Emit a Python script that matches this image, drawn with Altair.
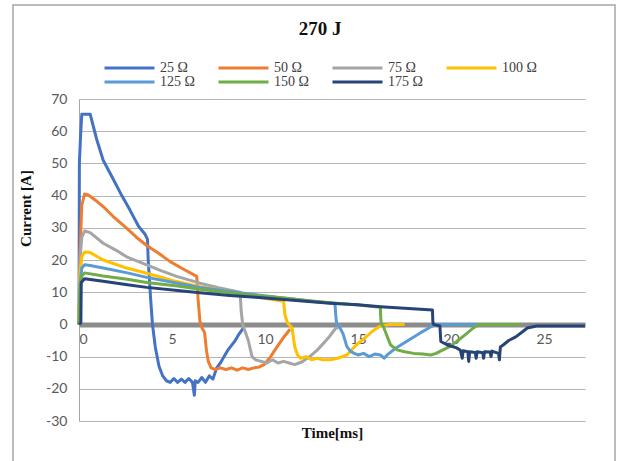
import altair as alt
import pandas as pd

# ---------------- data ----------------
series_names = ["25 Ω", "50 Ω", "75 Ω", "100 Ω", "125 Ω", "150 Ω", "175 Ω"]
series_colors = ["#4472C4", "#ED7D31", "#A5A5A5", "#FFC000", "#5B9BD5", "#70AD47", "#264478"]

t_25 = [0, 0.02, 0.08, 0.15, 0.6, 0.95, 1.3, 1.85, 2.3, 2.74, 3.2, 3.55, 3.68, 3.72, 3.85, 3.95, 4.1, 4.3,
        4.5, 4.7, 4.9, 5.1, 5.3, 5.5, 5.7, 5.9, 6.1, 6.2, 6.25, 6.4, 6.6, 6.8, 7.0, 7.2, 7.4, 7.6, 7.8,
        8.0, 8.2, 8.4, 8.6, 8.85]
i_25 = [0, 50, 58, 65.3, 65.3, 57.5, 51, 45, 40, 35.5, 30.5, 28, 26.5, 20, 8, 0, -7, -13,
        -16, -17.5, -18, -16.8, -18, -17, -18, -16.8, -18, -22, -17.5, -18, -16.5, -18, -16, -17, -13.5, -12, -10,
        -8, -6.5, -5, -3, -1]

t_50 = [0, 0.05, 0.15, 0.3, 0.5, 0.9, 1.3, 1.84, 2.56, 3.1, 3.64, 4.3, 4.9, 5.6, 6.33, 6.4, 6.5, 6.6,
        6.75, 6.85, 6.95, 7.1, 7.3, 7.6, 7.9, 8.2, 8.5, 8.8, 9.1, 9.4, 9.7, 9.95, 10.3, 10.7, 11.0, 11.35]
i_50 = [0, 22, 37, 40.5, 40.2, 38.5, 36.6, 33.5, 29.9, 27, 24.5, 22, 19.5, 17.2, 14.9, 8, 1, -1,
        -2.5, -8, -11.5, -13.5, -14, -13.5, -14, -13.5, -14.2, -13.5, -14, -13.5, -13.2, -12.5, -10, -6.5, -4, -1.5]

t_75 = [0, 0.05, 0.15, 0.3, 0.6, 1.3, 2.0, 2.56, 3.64, 4.4, 5.25, 6.5, 7.5, 8.66, 8.72, 8.8, 8.95, 9.1,
        9.3, 9.5, 9.8, 10.1, 10.4, 10.7, 11.0, 11.3, 11.6, 12.0, 12.4, 12.8, 13.2, 13.5, 13.8, 14.1]
i_75 = [0, 20, 27, 29, 28.5, 25.2, 23, 21, 18.5, 16.7, 14.9, 12.8, 11.4, 10, 4, 0, -2.5, -5,
        -10, -11, -11.5, -12, -11, -12, -11.5, -12, -12.5, -11.6, -10, -8, -5.5, -3.5, -1.2, -0.5]

t_100 = [0, 0.05, 0.15, 0.3, 0.6, 1.3, 2.56, 3.64, 5.25, 6.5, 8.0, 9.5, 11.0, 11.07, 11.2, 11.45, 11.6,
         11.75, 11.9, 12.2, 12.5, 12.8, 13.1, 13.5, 13.9, 14.4, 14.9, 15.4, 15.8, 16.2, 16.7, 17.2, 17.5]
i_100 = [0, 15, 21, 22.5, 22.3, 20, 17.5, 15.9, 13.3, 11.7, 10.2, 8.6, 7.2, 3, 0.5, -1, -7,
         -9.5, -10.5, -10, -11, -10.5, -11, -11, -10.5, -9.5, -6.4, -4, -2, -0.5, 0, 0, 0]

t_125 = [0, 0.05, 0.15, 0.3, 0.6, 1.3, 2.6, 3.64, 5.3, 6.5, 8.1, 9.5, 11.0, 12.5, 13.76, 13.8, 13.85,
         14.0, 14.2, 14.4, 14.6, 14.8, 15.0, 15.3, 15.6, 15.9, 16.2, 16.4, 16.6, 17.0, 17.6, 18.3, 18.9,
         19.2, 21.5]
i_125 = [0, 12, 17.5, 18.5, 18.3, 17.5, 16, 14.6, 12.8, 11.5, 10.2, 9.2, 8.2, 7.2, 6.5, 3, 0,
         -0.7, -3, -6.9, -8.4, -9, -9.5, -9, -10, -9.2, -9.5, -10.5, -9.3, -7.5, -5.3, -2.8, -0.8,
         0, 0]

t_150 = [0, 0.05, 0.15, 0.3, 1.3, 2.6, 3.64, 5.3, 6.5, 8.1, 9.5, 11.0, 12.5, 14.0, 15.0, 16.2, 16.22,
         16.25, 16.35, 16.6, 16.75, 17.1, 17.5, 18.0, 18.5, 18.9, 19.2, 19.4, 19.9, 20.3, 20.8, 21.2,
         21.5, 23.7]
i_150 = [0, 10, 15, 16, 15, 14, 13, 11.9, 10.9, 9.8, 9.0, 8.2, 7.3, 6.5, 6.0, 5.3, 2,
         0, -0.5, -4.2, -6.4, -7.9, -8.5, -9, -9.2, -9.5, -9, -8.4, -7, -5.3, -3, -1.1,
         0, 0]

t_175 = [0, 0.1, 0.12, 0.3, 1.3, 2.6, 3.64, 5.3, 6.5, 8.1, 9.5, 11.0, 12.5, 13.5, 15.0, 16.2, 17.5,
         19.0, 19.02, 19.05, 19.4, 19.45, 19.8, 20.3, 20.5, 20.6, 20.65, 20.9, 20.95, 21.0, 21.3,
         21.35, 21.4, 21.7, 21.75, 21.8, 22.1, 22.15, 22.2, 22.55, 22.6, 22.65, 22.8, 23.1, 23.5,
         24.1, 24.6, 27.2]
i_175 = [0, 0.5, 13, 14.2, 13.4, 12.3, 11.5, 10.5, 9.8, 9.0, 8.4, 7.7, 7.0, 6.6, 6.1, 5.5, 5.0,
         4.5, 1, 0, -0.5, -5.3, -6.4, -7.3, -8, -10.5, -8.2, -8.5, -11.5, -8.5, -8.7,
         -10.5, -8.5, -8.8, -10.5, -8.5, -8.6, -10, -8.3, -9, -11, -7, -6.4, -5, -3.8,
         -1.1, -0.5, -0.5]

times = [t_25, t_50, t_75, t_100, t_125, t_150, t_175]
currents = [i_25, i_50, i_75, i_100, i_125, i_150, i_175]

x_ticks = [0, 5, 10, 15, 20, 25]
y_ticks = [-30, -20, -10, 0, 10, 20, 30, 40, 50, 60, 70]

rows = []
for name, ts, cs in zip(series_names, times, currents):
    for k, (t, c) in enumerate(zip(ts, cs)):
        rows.append({"series": name, "t": t, "I": c, "idx": k})
df = pd.DataFrame(rows)

# ---------------- chart ----------------
W, H = 506, 322
SERIF = "Liberation Serif"
SANS = "Lato"

color_scale = alt.Scale(domain=series_names, range=series_colors)
x_scale = alt.Scale(domain=[0, 27.2], nice=False, zero=False)
y_scale = alt.Scale(domain=[-30, 70], nice=False)

x_axis = alt.Axis(
    values=x_ticks, offset=-96.5, ticks=False, grid=False,
    domainColor="#8c8c8c", domainWidth=5, zindex=0,
    labelFont=SANS, labelFontSize=14, labelColor="#595959", labelPadding=8,
    title="Time[ms]", titleFont=SERIF, titleFontSize=15, titleFontWeight="bold",
    titleColor="#111111", titleY=101, titleBaseline="top",
)
y_axis = alt.Axis(
    values=y_ticks, ticks=False, grid=True, gridColor="#b5b5b5", gridWidth=1,
    domainColor="#a6a6a6", domainWidth=1, zindex=0,
    labelFont=SANS, labelFontSize=14, labelColor="#595959", labelPadding=12,
    labelExpr="'' + datum.value",
    title="Current [A]", titleFont=SERIF, titleFontSize=15, titleFontWeight="bold",
    titleColor="#111111", titleX=-46, titleY=109, titleBaseline="bottom",
)
legend = alt.Legend(
    title=None, orient="none", legendX=24, legendY=-38, direction="horizontal",
    columns=4, symbolType="stroke", symbolSize=2500, symbolStrokeWidth=3,
    labelFont=SERIF, labelFontSize=14, labelColor="#404040", labelOffset=4,
    columnPadding=22, rowPadding=0, gridAlign="all", clipHeight=14, padding=0,
)

layers = []
for i, name in enumerate(series_names):
    layers.append(
        alt.Chart(df)
        .transform_filter(alt.datum.series == name)
        .mark_line(strokeWidth=3, strokeJoin="round")
        .encode(
            x=alt.X("t:Q", scale=x_scale, axis=x_axis),
            y=alt.Y("I:Q", scale=y_scale, axis=y_axis),
            color=alt.Color("series:N", scale=color_scale, legend=legend),
            order=alt.Order("idx:Q"),
        )
    )

frame = alt.Chart(pd.DataFrame({"f": [0]})).mark_rect(
    fill="transparent", stroke="#a6a6a6", strokeWidth=1.5
).encode(
    x=alt.value(13 - 79), x2=alt.value(615 - 79),
    y=alt.value(5 - 99), y2=alt.value(475 - 99),
)

chart = alt.layer(*layers, frame).properties(
    width=W, height=H,
    title=alt.TitleParams("270 J", font=SERIF, fontSize=19, fontWeight="bold",
                          color="#111111", anchor="middle", dx=-12, offset=0,
                          baseline="alphabetic", dy=50),
    autosize=alt.AutoSizeParams(type="none"),
    padding={"left": 79, "top": 99, "right": 32, "bottom": 40},
    background="white",
).configure_view(strokeWidth=0)

chart.save("out.html", embed_options={"renderer": "svg", "actions": False})
